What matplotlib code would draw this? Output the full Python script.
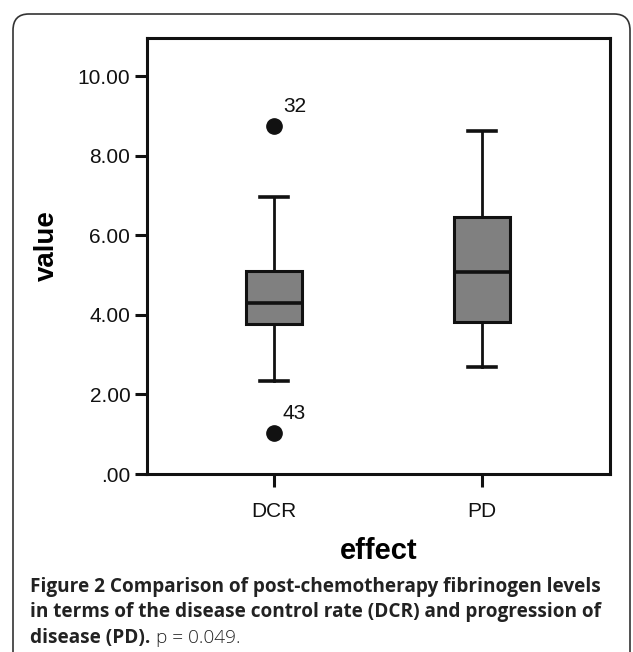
import matplotlib
matplotlib.use("Agg")
from matplotlib import pyplot as plt
from matplotlib.patches import FancyBboxPatch

# box summary
groups = ["DCR", "PD"]
q1 = [3.76, 3.81]
median = [4.29, 5.08]
q3 = [5.10, 6.46]
whisker_low = [2.35, 2.68]
whisker_high = [6.97, 8.61]
outliers = [[8.75, 1.04], []]
outlier_ids = [["32", "43"], []]

ytick_values = [0, 2, 4, 6, 8, 10]
ytick_labels = [".00", "2.00", "4.00", "6.00", "8.00", "10.00"]

plt.rcParams["font.family"] = ["Liberation Sans", "DejaVu Sans"]

fig = plt.figure(figsize=(6.33, 6.52), dpi=100)

# rounded outer frame
frame = FancyBboxPatch((13 / 633, -0.1), (630 - 13) / 633, 1.1 - 14 / 652,
                       boxstyle="round,pad=0,rounding_size=0.025",
                       transform=fig.transFigure, fill=False,
                       edgecolor="#333333", linewidth=1.2, clip_on=False)
fig.patches.append(frame)

ax = fig.add_axes([147 / 633, 1 - 474 / 652, (610 - 147) / 633, (474 - 38) / 652])

stats = []
for i, g in enumerate(groups):
    stats.append({
        "label": g,
        "q1": q1[i],
        "med": median[i],
        "q3": q3[i],
        "whislo": whisker_low[i],
        "whishi": whisker_high[i],
        "fliers": outliers[i],
    })

ax.bxp(stats, positions=[1, 2], widths=0.265, capwidths=0.135,
       patch_artist=True,
       boxprops=dict(facecolor="#808080", edgecolor="#111111", linewidth=2.2),
       medianprops=dict(color="#111111", linewidth=2.6),
       whiskerprops=dict(color="#111111", linewidth=2.0),
       capprops=dict(color="#111111", linewidth=2.6),
       flierprops=dict(marker="o", markerfacecolor="#111111",
                       markeredgecolor="#111111", markersize=11))

# outlier case numbers
for i, vals in enumerate(outliers):
    for v, lab in zip(vals, outlier_ids[i]):
        ax.annotate(lab, (i + 1, v), xytext=(9, 19), textcoords="offset pixels",
                    fontsize=15, ha="left", va="center", color="#111111")

ax.set_xlim(0.39, 2.615)
ax.set_ylim(0, 10.96)
ax.set_yticks(ytick_values)
ax.set_yticklabels(ytick_labels)

for s in ax.spines.values():
    s.set_linewidth(2.2)
    s.set_color("#111111")
ax.tick_params(axis="both", length=9, width=2.2, color="#111111",
               labelsize=15, labelcolor="#111111")
ax.tick_params(axis="y", pad=3)
ax.tick_params(axis="x", pad=11)

ax.set_ylabel("value", fontsize=20, fontweight="bold")
ax.yaxis.set_label_coords(-0.188, 0.523)
ax.set_xlabel("effect", fontsize=21, fontweight="bold", labelpad=12)

# caption
cap = dict(family=["Open Sans", "DejaVu Sans"], fontsize=13.7, color="#222222")
fig.text(30 / 633, 1 - 592 / 652, "Figure 2 Comparison of post-chemotherapy fibrinogen levels",
         fontweight="bold", va="baseline", **cap)
fig.text(30 / 633, 1 - 617 / 652, "in terms of the disease control rate (DCR) and progression of",
         fontweight="bold", va="baseline", **cap)
t3 = fig.text(30 / 633, 1 - 643 / 652, "disease (PD).", fontweight="bold",
              va="baseline", **cap)
fig.canvas.draw()
bb = t3.get_window_extent()
fig.text((bb.x1 + 6) / 633, 1 - 643 / 652, "p = 0.049.", fontweight="light",
         va="baseline", **cap)

fig.savefig("out.png", dpi=100)
